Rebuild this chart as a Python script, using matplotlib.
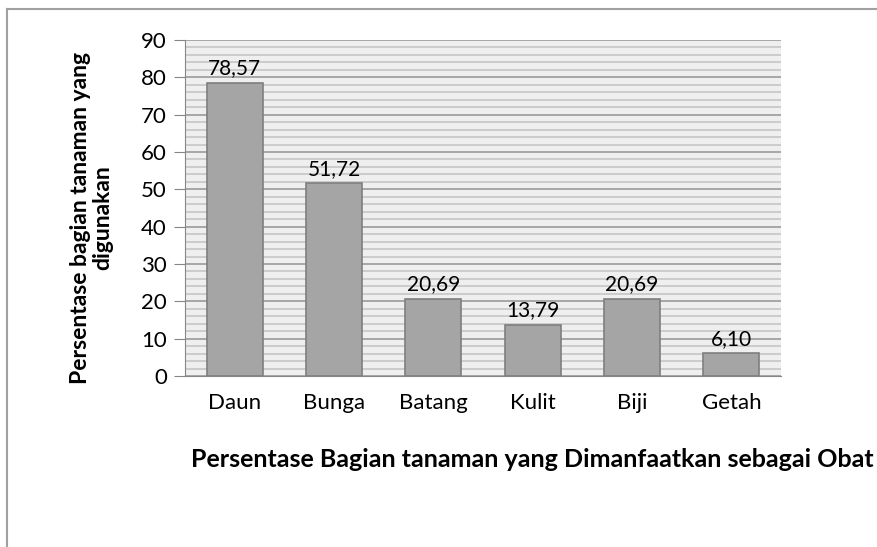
import matplotlib.pyplot as plt
from matplotlib.lines import Line2D

# data
bagian = ["Daun", "Bunga", "Batang", "Kulit", "Biji", "Getah"]
persen = [78.57, 51.72, 20.69, 13.79, 20.69, 6.10]
label_nilai = ["78,57", "51,72", "20,69", "13,79", "20,69", "6,10"]

plt.rcParams["font.family"] = "Lato"

fig = plt.figure(figsize=(8.78, 5.47), dpi=100)
ax = fig.add_axes([185 / 878, 1 - 376 / 547, 596 / 878, 336 / 547])

ax.set_facecolor("#efefef")
x = range(len(bagian))
ax.bar(x, persen, width=0.565, color="#a5a5a5", edgecolor="#7f7f7f", linewidth=1.2, zorder=3)

for i, (v, t) in enumerate(zip(persen, label_nilai)):
    ax.annotate(t, (i, v), xytext=(0, 3), textcoords="offset points",
                ha="center", va="bottom", fontsize=15)

ax.set_xlim(-0.5, len(bagian) - 0.5)
ax.set_ylim(0, 90)
ax.set_yticks(range(0, 91, 10))
ax.set_yticks(range(0, 91, 2), minor=True)
ax.set_xticks(list(x))
ax.set_xticklabels(bagian)
ax.tick_params(axis="y", which="major", length=8, color="#868686", labelsize=16, pad=5)
ax.tick_params(axis="y", which="minor", length=0)
ax.tick_params(axis="x", length=0, labelsize=16, pad=12)

ax.grid(axis="y", which="major", color="#9a9a9a", linewidth=1.2, zorder=1)
ax.grid(axis="y", which="minor", color="#c6c6c6", linewidth=1.2, zorder=0)
for s in ["top", "right"]:
    ax.spines[s].set_visible(False)
ax.spines["left"].set_color("#868686")
ax.spines["bottom"].set_color("#868686")

ax.set_ylabel("Persentase bagian tanaman yang\ndigunakan", fontsize=16.5,
              fontweight="bold", linespacing=1.05)
ax.yaxis.set_label_coords(-0.121, 0.47)
ax.set_xlabel("Persentase Bagian tanaman yang Dimanfaatkan sebagai Obat",
              fontsize=18, fontweight="bold")
ax.xaxis.set_label_coords(0.582, -0.214)

# chart frame (top and left edges)
fig.add_artist(Line2D([7 / 878, 7 / 878], [0, 1 - 9 / 547], color="#a0a0a0", lw=1.5))
fig.add_artist(Line2D([7 / 878, 877 / 878], [1 - 9 / 547, 1 - 9 / 547], color="#a0a0a0", lw=1.5))

fig.savefig("out.png", dpi=100)
